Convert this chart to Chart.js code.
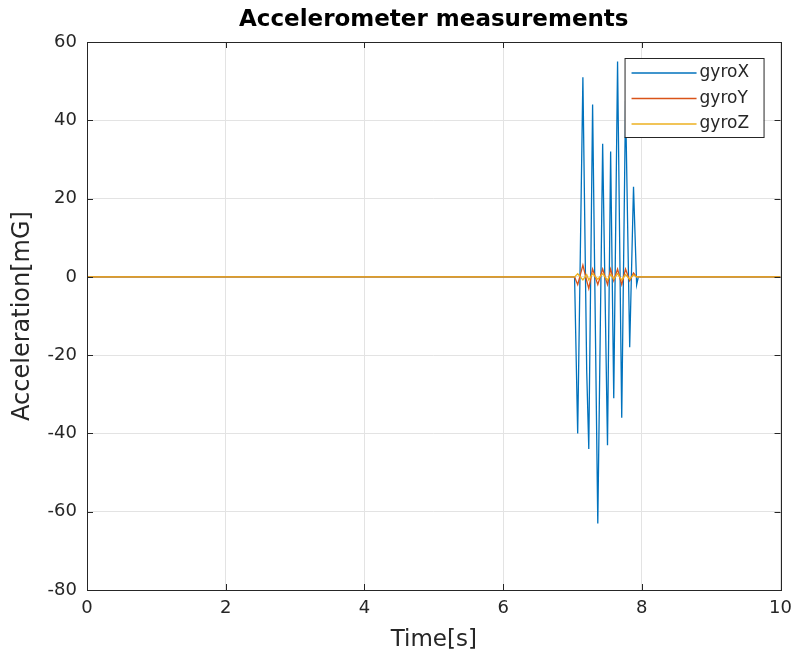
<!DOCTYPE html>
<html>
<head>
<meta charset="utf-8">
<title>Accelerometer measurements</title>
<script src="https://cdn.jsdelivr.net/npm/chart.js@4.4.1/dist/chart.umd.min.js"></script>
<style>
  html, body { margin: 0; padding: 0; background: #fff; }
  canvas { display: block; }
</style>
</head>
<body>
<canvas id="accChart" width="800" height="661"></canvas>
<script>
// Data (time in s, values in mG)
const timeS = [0, 7.03, 7.075, 7.15, 7.205, 7.235, 7.29, 7.365, 7.435, 7.505, 7.55, 7.595, 7.65, 7.71, 7.765, 7.825, 7.88, 7.925, 7.95, 10];
const gyroX = [0, 0, -40, 51, -24, -44, 44, -63, 34, -43, 32, -31, 55, -36, 45, -18, 23, -2, 0, 0];
const gyroY = [0, 0, -2, 3, -1, -3, 2, -2, 2, -2, 2, -1, 2, -2, 2, -1, 1, 0, 0, 0];
const gyroZ = [0, 0, 0.8, -0.8, 0.6, -0.8, 0.8, -0.6, 0.8, -0.8, 0.6, -0.6, 0.8, -0.8, 0.6, -0.6, 0.5, 0, 0, 0];

const xTicks = [0, 2, 4, 6, 8, 10];
const yTicks = [-80, -60, -40, -20, 0, 20, 40, 60];

const seriesNames = ['gyroX', 'gyroY', 'gyroZ'];
const seriesColors = ['#0072BD', '#D95319', '#EDB120'];
const seriesValues = [gyroX, gyroY, gyroZ];

const chartTitle = 'Accelerometer measurements';

const FONT = "'DejaVu Sans', sans-serif";
const TEXT = '#262626';

function toPoints(vals) {
    return vals.map((v, i) => ({ x: timeS[i], y: v }));
}

// box around the axes, inward ticks, title over the axes and a MATLAB-like legend
const matlabAxes = {
    id: 'matlabAxes',
    afterDraw(chart) {
        const { ctx, chartArea: a, scales } = chart;
        ctx.save();
        ctx.strokeStyle = TEXT;
        ctx.lineWidth = 1;
        ctx.strokeRect(Math.round(a.left) + 0.5, Math.round(a.top) + 0.5,
            Math.round(a.right - a.left), Math.round(a.bottom - a.top));
        ctx.beginPath();
        xTicks.forEach(v => {
            const px = Math.round(scales.x.getPixelForValue(v)) + 0.5;
            ctx.moveTo(px, a.bottom); ctx.lineTo(px, a.bottom - 6);
            ctx.moveTo(px, a.top); ctx.lineTo(px, a.top + 6);
        });
        yTicks.forEach(v => {
            const py = Math.round(scales.y.getPixelForValue(v)) + 0.5;
            ctx.moveTo(a.left, py); ctx.lineTo(a.left + 6, py);
            ctx.moveTo(a.right, py); ctx.lineTo(a.right - 6, py);
        });
        ctx.stroke();

        // title centred over the axes
        ctx.fillStyle = '#000';
        ctx.font = 'bold 23px ' + FONT;
        ctx.textAlign = 'center';
        ctx.textBaseline = 'middle';
        ctx.fillText(chartTitle, (a.left + a.right) / 2, 20);

        // legend
        const bx = a.right - 156, by = a.top + 16, bw = 139, bh = 79;
        ctx.fillStyle = '#fff';
        ctx.fillRect(bx, by, bw, bh);
        ctx.strokeStyle = TEXT;
        ctx.strokeRect(bx + 0.5, by + 0.5, bw, bh);
        ctx.font = '17px ' + FONT;
        ctx.textAlign = 'left';
        seriesNames.forEach((name, i) => {
            const ry = by + 15 + i * 25.5;
            ctx.strokeStyle = seriesColors[i];
            ctx.lineWidth = 1.3;
            ctx.beginPath();
            ctx.moveTo(bx + 7, ry); ctx.lineTo(bx + 72, ry);
            ctx.stroke();
            ctx.fillStyle = TEXT;
            ctx.fillText(name, bx + 75, ry);
        });
        ctx.restore();
    }
};

new Chart(document.getElementById('accChart'), {
    type: 'line',
    data: {
        datasets: seriesNames.map((name, i) => ({
            label: name,
            data: toPoints(seriesValues[i]),
            borderColor: seriesColors[i],
            backgroundColor: seriesColors[i],
            borderWidth: 1.3,
            pointRadius: 0,
            tension: 0,
            fill: false,
            order: 3 - i   // gyroZ drawn last, on top
        }))
    },
    options: {
        responsive: false,
        animation: false,
        layout: { padding: { top: 42, right: 19, bottom: 7, left: 0 } },
        plugins: {
            legend: { display: false },
            tooltip: { enabled: false },
            title: { display: false }
        },
        scales: {
            x: {
                type: 'linear',
                min: 0,
                max: 10,
                afterBuildTicks(scale) { scale.ticks = xTicks.map(v => ({ value: v })); },
                afterFit(scale) { scale.height = 64; },
                ticks: { color: TEXT, font: { family: FONT, size: 18 }, padding: 8, maxRotation: 0 },
                grid: { color: '#e3e3e3', drawTicks: false },
                border: { display: false },
                title: {
                    display: true,
                    text: 'Time[s]',
                    color: TEXT,
                    font: { family: FONT, size: 23 },
                    padding: { top: 2, bottom: 0 }
                }
            },
            y: {
                min: -80,
                max: 60,
                afterBuildTicks(scale) { scale.ticks = yTicks.map(v => ({ value: v })); },
                afterFit(scale) { scale.width = 87; },
                ticks: { color: TEXT, font: { family: FONT, size: 18 }, padding: 10 },
                grid: { color: '#e3e3e3', drawTicks: false },
                border: { display: false },
                title: {
                    display: true,
                    text: 'Acceleration[mG]',
                    color: TEXT,
                    font: { family: FONT, size: 24 },
                    padding: { top: 8, bottom: 0 }
                }
            }
        }
    },
    plugins: [matlabAxes]
});
</script>
</body>
</html>
